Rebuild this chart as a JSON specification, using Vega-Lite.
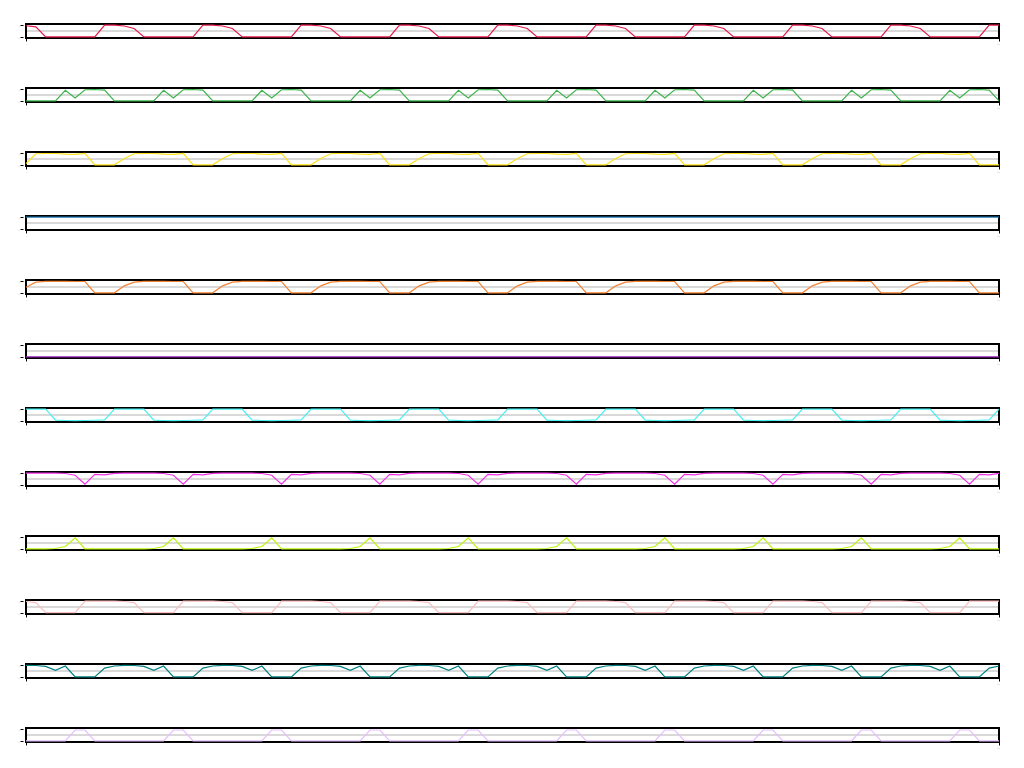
{
"$schema": "https://vega.github.io/schema/vega-lite/v6.json",
"background": "white",
"padding": {"top": 22, "left": 17, "right": 5, "bottom": 5},
"data": {"values": [
{"x":0,"a":0.95,"b":0,"c":0.1,"d":1,"e":0.48,"f":0,"g":1,"h":1,"i":0,"j":0.97,"k":0.98,"l":0},
{"x":1,"a":0.86,"b":0,"c":0.95,"d":1,"e":0.92,"f":0,"g":1,"h":1,"i":0,"j":0.88,"k":0.97,"l":0},
{"x":2,"a":0,"b":0,"c":0.97,"d":1,"e":0.98,"f":0,"g":1,"h":1,"i":0,"j":0.02,"k":0.9,"l":0},
{"x":3,"a":0,"b":0,"c":0.97,"d":1,"e":0.98,"f":0,"g":0.06,"h":1,"i":0.03,"j":0.02,"k":0.55,"l":0},
{"x":4,"a":0,"b":0.9,"c":0.92,"d":1,"e":0.98,"f":0,"g":0.03,"h":0.97,"i":0.2,"j":0.02,"k":0.93,"l":0},
{"x":5,"a":0,"b":0.25,"c":0.9,"d":1,"e":0.97,"f":0,"g":0.02,"h":0.82,"i":0.95,"j":0.02,"k":0,"l":0.93},
{"x":6,"a":0,"b":0.95,"c":0.98,"d":1,"e":0.97,"f":0,"g":0.03,"h":0.05,"i":0,"j":1,"k":0,"l":0.93},
{"x":7,"a":0,"b":0.97,"c":0,"d":1,"e":0,"f":0,"g":0.05,"h":0.9,"i":0,"j":1,"k":0,"l":0},
{"x":8,"a":1,"b":0.92,"c":0,"d":1,"e":0,"f":0,"g":0.08,"h":0.86,"i":0,"j":1,"k":0.75,"l":0},
{"x":9,"a":1,"b":0,"c":0,"d":1,"e":0,"f":0,"g":1,"h":0.98,"i":0,"j":1,"k":0.93,"l":0},
{"x":10,"a":0.93,"b":0,"c":0.55,"d":1,"e":0.6,"f":0,"g":1,"h":1,"i":0,"j":0.97,"k":0.98,"l":0},
{"x":11,"a":0.72,"b":0,"c":0.95,"d":1,"e":0.92,"f":0,"g":1,"h":1,"i":0,"j":0.88,"k":0.97,"l":0},
{"x":12,"a":0,"b":0,"c":0.97,"d":1,"e":0.98,"f":0,"g":1,"h":1,"i":0,"j":0.02,"k":0.9,"l":0},
{"x":13,"a":0,"b":0,"c":0.97,"d":1,"e":0.98,"f":0,"g":0.06,"h":1,"i":0.03,"j":0.02,"k":0.55,"l":0},
{"x":14,"a":0,"b":0.9,"c":0.92,"d":1,"e":0.98,"f":0,"g":0.03,"h":0.97,"i":0.2,"j":0.02,"k":0.93,"l":0},
{"x":15,"a":0,"b":0.25,"c":0.9,"d":1,"e":0.97,"f":0,"g":0.02,"h":0.82,"i":0.95,"j":0.02,"k":0,"l":0.93},
{"x":16,"a":0,"b":0.95,"c":0.98,"d":1,"e":0.97,"f":0,"g":0.03,"h":0.05,"i":0,"j":1,"k":0,"l":0.93},
{"x":17,"a":0,"b":0.97,"c":0,"d":1,"e":0,"f":0,"g":0.05,"h":0.9,"i":0,"j":1,"k":0,"l":0},
{"x":18,"a":1,"b":0.92,"c":0,"d":1,"e":0,"f":0,"g":0.08,"h":0.86,"i":0,"j":1,"k":0.75,"l":0},
{"x":19,"a":1,"b":0,"c":0,"d":1,"e":0,"f":0,"g":1,"h":0.98,"i":0,"j":1,"k":0.93,"l":0},
{"x":20,"a":0.93,"b":0,"c":0.55,"d":1,"e":0.6,"f":0,"g":1,"h":1,"i":0,"j":0.97,"k":0.98,"l":0},
{"x":21,"a":0.72,"b":0,"c":0.95,"d":1,"e":0.92,"f":0,"g":1,"h":1,"i":0,"j":0.88,"k":0.97,"l":0},
{"x":22,"a":0,"b":0,"c":0.97,"d":1,"e":0.98,"f":0,"g":1,"h":1,"i":0,"j":0.02,"k":0.9,"l":0},
{"x":23,"a":0,"b":0,"c":0.97,"d":1,"e":0.98,"f":0,"g":0.06,"h":1,"i":0.03,"j":0.02,"k":0.55,"l":0},
{"x":24,"a":0,"b":0.9,"c":0.92,"d":1,"e":0.98,"f":0,"g":0.03,"h":0.97,"i":0.2,"j":0.02,"k":0.93,"l":0},
{"x":25,"a":0,"b":0.25,"c":0.9,"d":1,"e":0.97,"f":0,"g":0.02,"h":0.82,"i":0.95,"j":0.02,"k":0,"l":0.93},
{"x":26,"a":0,"b":0.95,"c":0.98,"d":1,"e":0.97,"f":0,"g":0.03,"h":0.05,"i":0,"j":1,"k":0,"l":0.93},
{"x":27,"a":0,"b":0.97,"c":0,"d":1,"e":0,"f":0,"g":0.05,"h":0.9,"i":0,"j":1,"k":0,"l":0},
{"x":28,"a":1,"b":0.92,"c":0,"d":1,"e":0,"f":0,"g":0.08,"h":0.86,"i":0,"j":1,"k":0.75,"l":0},
{"x":29,"a":1,"b":0,"c":0,"d":1,"e":0,"f":0,"g":1,"h":0.98,"i":0,"j":1,"k":0.93,"l":0},
{"x":30,"a":0.93,"b":0,"c":0.55,"d":1,"e":0.6,"f":0,"g":1,"h":1,"i":0,"j":0.97,"k":0.98,"l":0},
{"x":31,"a":0.72,"b":0,"c":0.95,"d":1,"e":0.92,"f":0,"g":1,"h":1,"i":0,"j":0.88,"k":0.97,"l":0},
{"x":32,"a":0,"b":0,"c":0.97,"d":1,"e":0.98,"f":0,"g":1,"h":1,"i":0,"j":0.02,"k":0.9,"l":0},
{"x":33,"a":0,"b":0,"c":0.97,"d":1,"e":0.98,"f":0,"g":0.06,"h":1,"i":0.03,"j":0.02,"k":0.55,"l":0},
{"x":34,"a":0,"b":0.9,"c":0.92,"d":1,"e":0.98,"f":0,"g":0.03,"h":0.97,"i":0.2,"j":0.02,"k":0.93,"l":0},
{"x":35,"a":0,"b":0.25,"c":0.9,"d":1,"e":0.97,"f":0,"g":0.02,"h":0.82,"i":0.95,"j":0.02,"k":0,"l":0.93},
{"x":36,"a":0,"b":0.95,"c":0.98,"d":1,"e":0.97,"f":0,"g":0.03,"h":0.05,"i":0,"j":1,"k":0,"l":0.93},
{"x":37,"a":0,"b":0.97,"c":0,"d":1,"e":0,"f":0,"g":0.05,"h":0.9,"i":0,"j":1,"k":0,"l":0},
{"x":38,"a":1,"b":0.92,"c":0,"d":1,"e":0,"f":0,"g":0.08,"h":0.86,"i":0,"j":1,"k":0.75,"l":0},
{"x":39,"a":1,"b":0,"c":0,"d":1,"e":0,"f":0,"g":1,"h":0.98,"i":0,"j":1,"k":0.93,"l":0},
{"x":40,"a":0.93,"b":0,"c":0.55,"d":1,"e":0.6,"f":0,"g":1,"h":1,"i":0,"j":0.97,"k":0.98,"l":0},
{"x":41,"a":0.72,"b":0,"c":0.95,"d":1,"e":0.92,"f":0,"g":1,"h":1,"i":0,"j":0.88,"k":0.97,"l":0},
{"x":42,"a":0,"b":0,"c":0.97,"d":1,"e":0.98,"f":0,"g":1,"h":1,"i":0,"j":0.02,"k":0.9,"l":0},
{"x":43,"a":0,"b":0,"c":0.97,"d":1,"e":0.98,"f":0,"g":0.06,"h":1,"i":0.03,"j":0.02,"k":0.55,"l":0},
{"x":44,"a":0,"b":0.9,"c":0.92,"d":1,"e":0.98,"f":0,"g":0.03,"h":0.97,"i":0.2,"j":0.02,"k":0.93,"l":0},
{"x":45,"a":0,"b":0.25,"c":0.9,"d":1,"e":0.97,"f":0,"g":0.02,"h":0.82,"i":0.95,"j":0.02,"k":0,"l":0.93},
{"x":46,"a":0,"b":0.95,"c":0.98,"d":1,"e":0.97,"f":0,"g":0.03,"h":0.05,"i":0,"j":1,"k":0,"l":0.93},
{"x":47,"a":0,"b":0.97,"c":0,"d":1,"e":0,"f":0,"g":0.05,"h":0.9,"i":0,"j":1,"k":0,"l":0},
{"x":48,"a":1,"b":0.92,"c":0,"d":1,"e":0,"f":0,"g":0.08,"h":0.86,"i":0,"j":1,"k":0.75,"l":0},
{"x":49,"a":1,"b":0,"c":0,"d":1,"e":0,"f":0,"g":1,"h":0.98,"i":0,"j":1,"k":0.93,"l":0},
{"x":50,"a":0.93,"b":0,"c":0.55,"d":1,"e":0.6,"f":0,"g":1,"h":1,"i":0,"j":0.97,"k":0.98,"l":0},
{"x":51,"a":0.72,"b":0,"c":0.95,"d":1,"e":0.92,"f":0,"g":1,"h":1,"i":0,"j":0.88,"k":0.97,"l":0},
{"x":52,"a":0,"b":0,"c":0.97,"d":1,"e":0.98,"f":0,"g":1,"h":1,"i":0,"j":0.02,"k":0.9,"l":0},
{"x":53,"a":0,"b":0,"c":0.97,"d":1,"e":0.98,"f":0,"g":0.06,"h":1,"i":0.03,"j":0.02,"k":0.55,"l":0},
{"x":54,"a":0,"b":0.9,"c":0.92,"d":1,"e":0.98,"f":0,"g":0.03,"h":0.97,"i":0.2,"j":0.02,"k":0.93,"l":0},
{"x":55,"a":0,"b":0.25,"c":0.9,"d":1,"e":0.97,"f":0,"g":0.02,"h":0.82,"i":0.95,"j":0.02,"k":0,"l":0.93},
{"x":56,"a":0,"b":0.95,"c":0.98,"d":1,"e":0.97,"f":0,"g":0.03,"h":0.05,"i":0,"j":1,"k":0,"l":0.93},
{"x":57,"a":0,"b":0.97,"c":0,"d":1,"e":0,"f":0,"g":0.05,"h":0.9,"i":0,"j":1,"k":0,"l":0},
{"x":58,"a":1,"b":0.92,"c":0,"d":1,"e":0,"f":0,"g":0.08,"h":0.86,"i":0,"j":1,"k":0.75,"l":0},
{"x":59,"a":1,"b":0,"c":0,"d":1,"e":0,"f":0,"g":1,"h":0.98,"i":0,"j":1,"k":0.93,"l":0},
{"x":60,"a":0.93,"b":0,"c":0.55,"d":1,"e":0.6,"f":0,"g":1,"h":1,"i":0,"j":0.97,"k":0.98,"l":0},
{"x":61,"a":0.72,"b":0,"c":0.95,"d":1,"e":0.92,"f":0,"g":1,"h":1,"i":0,"j":0.88,"k":0.97,"l":0},
{"x":62,"a":0,"b":0,"c":0.97,"d":1,"e":0.98,"f":0,"g":1,"h":1,"i":0,"j":0.02,"k":0.9,"l":0},
{"x":63,"a":0,"b":0,"c":0.97,"d":1,"e":0.98,"f":0,"g":0.06,"h":1,"i":0.03,"j":0.02,"k":0.55,"l":0},
{"x":64,"a":0,"b":0.9,"c":0.92,"d":1,"e":0.98,"f":0,"g":0.03,"h":0.97,"i":0.2,"j":0.02,"k":0.93,"l":0},
{"x":65,"a":0,"b":0.25,"c":0.9,"d":1,"e":0.97,"f":0,"g":0.02,"h":0.82,"i":0.95,"j":0.02,"k":0,"l":0.93},
{"x":66,"a":0,"b":0.95,"c":0.98,"d":1,"e":0.97,"f":0,"g":0.03,"h":0.05,"i":0,"j":1,"k":0,"l":0.93},
{"x":67,"a":0,"b":0.97,"c":0,"d":1,"e":0,"f":0,"g":0.05,"h":0.9,"i":0,"j":1,"k":0,"l":0},
{"x":68,"a":1,"b":0.92,"c":0,"d":1,"e":0,"f":0,"g":0.08,"h":0.86,"i":0,"j":1,"k":0.75,"l":0},
{"x":69,"a":1,"b":0,"c":0,"d":1,"e":0,"f":0,"g":1,"h":0.98,"i":0,"j":1,"k":0.93,"l":0},
{"x":70,"a":0.93,"b":0,"c":0.55,"d":1,"e":0.6,"f":0,"g":1,"h":1,"i":0,"j":0.97,"k":0.98,"l":0},
{"x":71,"a":0.72,"b":0,"c":0.95,"d":1,"e":0.92,"f":0,"g":1,"h":1,"i":0,"j":0.88,"k":0.97,"l":0},
{"x":72,"a":0,"b":0,"c":0.97,"d":1,"e":0.98,"f":0,"g":1,"h":1,"i":0,"j":0.02,"k":0.9,"l":0},
{"x":73,"a":0,"b":0,"c":0.97,"d":1,"e":0.98,"f":0,"g":0.06,"h":1,"i":0.03,"j":0.02,"k":0.55,"l":0},
{"x":74,"a":0,"b":0.9,"c":0.92,"d":1,"e":0.98,"f":0,"g":0.03,"h":0.97,"i":0.2,"j":0.02,"k":0.93,"l":0},
{"x":75,"a":0,"b":0.25,"c":0.9,"d":1,"e":0.97,"f":0,"g":0.02,"h":0.82,"i":0.95,"j":0.02,"k":0,"l":0.93},
{"x":76,"a":0,"b":0.95,"c":0.98,"d":1,"e":0.97,"f":0,"g":0.03,"h":0.05,"i":0,"j":1,"k":0,"l":0.93},
{"x":77,"a":0,"b":0.97,"c":0,"d":1,"e":0,"f":0,"g":0.05,"h":0.9,"i":0,"j":1,"k":0,"l":0},
{"x":78,"a":1,"b":0.92,"c":0,"d":1,"e":0,"f":0,"g":0.08,"h":0.86,"i":0,"j":1,"k":0.75,"l":0},
{"x":79,"a":1,"b":0,"c":0,"d":1,"e":0,"f":0,"g":1,"h":0.98,"i":0,"j":1,"k":0.93,"l":0},
{"x":80,"a":0.93,"b":0,"c":0.55,"d":1,"e":0.6,"f":0,"g":1,"h":1,"i":0,"j":0.97,"k":0.98,"l":0},
{"x":81,"a":0.72,"b":0,"c":0.95,"d":1,"e":0.92,"f":0,"g":1,"h":1,"i":0,"j":0.88,"k":0.97,"l":0},
{"x":82,"a":0,"b":0,"c":0.97,"d":1,"e":0.98,"f":0,"g":1,"h":1,"i":0,"j":0.02,"k":0.9,"l":0},
{"x":83,"a":0,"b":0,"c":0.97,"d":1,"e":0.98,"f":0,"g":0.06,"h":1,"i":0.03,"j":0.02,"k":0.55,"l":0},
{"x":84,"a":0,"b":0.9,"c":0.92,"d":1,"e":0.98,"f":0,"g":0.03,"h":0.97,"i":0.2,"j":0.02,"k":0.93,"l":0},
{"x":85,"a":0,"b":0.25,"c":0.9,"d":1,"e":0.97,"f":0,"g":0.02,"h":0.82,"i":0.95,"j":0.02,"k":0,"l":0.93},
{"x":86,"a":0,"b":0.95,"c":0.98,"d":1,"e":0.97,"f":0,"g":0.03,"h":0.05,"i":0,"j":1,"k":0,"l":0.93},
{"x":87,"a":0,"b":0.97,"c":0,"d":1,"e":0,"f":0,"g":0.05,"h":0.9,"i":0,"j":1,"k":0,"l":0},
{"x":88,"a":1,"b":0.92,"c":0,"d":1,"e":0,"f":0,"g":0.08,"h":0.86,"i":0,"j":1,"k":0.75,"l":0},
{"x":89,"a":1,"b":0,"c":0,"d":1,"e":0,"f":0,"g":1,"h":0.98,"i":0,"j":1,"k":0.93,"l":0},
{"x":90,"a":0.93,"b":0,"c":0.55,"d":1,"e":0.6,"f":0,"g":1,"h":1,"i":0,"j":0.97,"k":0.98,"l":0},
{"x":91,"a":0.72,"b":0,"c":0.95,"d":1,"e":0.92,"f":0,"g":1,"h":1,"i":0,"j":0.88,"k":0.97,"l":0},
{"x":92,"a":0,"b":0,"c":0.97,"d":1,"e":0.98,"f":0,"g":1,"h":1,"i":0,"j":0.02,"k":0.9,"l":0},
{"x":93,"a":0,"b":0,"c":0.97,"d":1,"e":0.98,"f":0,"g":0.06,"h":1,"i":0.03,"j":0.02,"k":0.55,"l":0},
{"x":94,"a":0,"b":0.9,"c":0.92,"d":1,"e":0.98,"f":0,"g":0.03,"h":0.97,"i":0.2,"j":0.02,"k":0.93,"l":0},
{"x":95,"a":0,"b":0.25,"c":0.9,"d":1,"e":0.97,"f":0,"g":0.02,"h":0.82,"i":0.95,"j":0.02,"k":0,"l":0.93},
{"x":96,"a":0,"b":0.95,"c":0.98,"d":1,"e":0.97,"f":0,"g":0.03,"h":0.05,"i":0,"j":1,"k":0,"l":0.93},
{"x":97,"a":0,"b":0.97,"c":0,"d":1,"e":0,"f":0,"g":0.05,"h":0.9,"i":0,"j":1,"k":0,"l":0},
{"x":98,"a":1,"b":0.92,"c":0,"d":1,"e":0,"f":0,"g":0.08,"h":0.86,"i":0,"j":1,"k":0.75,"l":0},
{"x":99,"a":1,"b":0,"c":0,"d":1,"e":0,"f":0,"g":1,"h":0.98,"i":0,"j":1,"k":0.93,"l":0}
]},
"transform": [{"fold": ["a","b","c","d","e","f","g","h","i","j","k","l"], "as": ["s","v"]}],
"facet": {"row": {"field": "s", "type": "nominal", "header": null, "title": null, "sort": ["a","b","c","d","e","f","g","h","i","j","k","l"]}},
"spacing": 42,
"resolve": {"axis": {"x": "independent"}},
"spec": {
  "width": 973,
  "height": 14,
  "layer": [
    {
      "transform": [{"filter": "datum.x == 0"}],
      "mark": {"type": "rule", "color": "#b3b3b3", "strokeWidth": 1},
      "encoding": {
        "y": {"datum": 0.5, "type": "quantitative"}
      }
    },
    {
      "transform": [{"filter": "datum.x == 0"}],
      "mark": {"type": "rect", "fill": "white", "fillOpacity": 0, "stroke": "black", "strokeWidth": 2, "clip": false},
      "encoding": {
        "x": {"datum": 0, "type": "quantitative"},
        "x2": {"datum": 99},
        "y": {"datum": -0.1, "type": "quantitative"},
        "y2": {"datum": 1.1}
      }
    },
    {
      "mark": {"type": "line", "strokeWidth": 1.2, "clip": false},
      "encoding": {
        "x": {"field": "x", "type": "quantitative", "scale": {"domain": [0, 99], "nice": false, "zero": false},
              "axis": {"title": null, "values": [0, 99], "grid": false, "domain": false, "tickSize": 3, "tickColor": "black", "labelFontSize": 2, "labelColor": "#999999", "labelPadding": 1}},
        "y": {"field": "v", "type": "quantitative", "scale": {"domain": [-0.1, 1.1], "nice": false, "zero": false},
              "axis": {"title": null, "values": [0, 0.5, 1], "grid": false, "domain": false, "tickSize": 3, "tickColor": "black", "labelFontSize": 2, "labelColor": "#999999", "labelPadding": 1}},
        "color": {"field": "s", "type": "nominal", "legend": null,
                  "scale": {"domain": ["a","b","c","d","e","f","g","h","i","j","k","l"],
                            "range": ["#e6194b","#3cb44b","#ffe119","#1f77b4","#f58231","#911eb4","#46f0f0","#f032e6","#bcf60c","#fabebe","#008080","#e6beff"]}}
      }
    }
  ]
},
"config": {"view": {"stroke": null}}
}
